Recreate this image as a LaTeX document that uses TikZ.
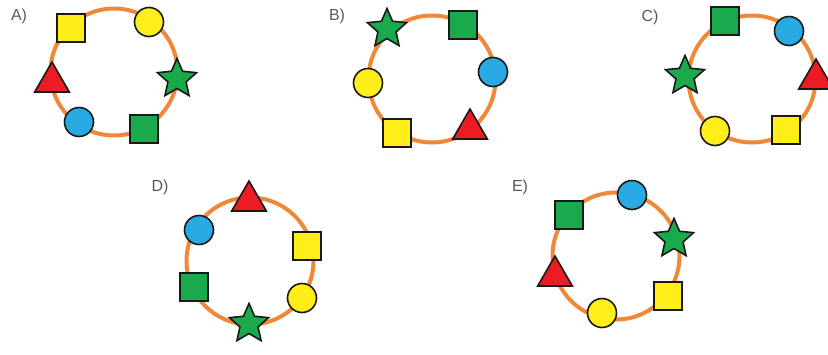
\documentclass[tikz,border=0pt]{standalone}
\usepackage{fontspec}
\setmainfont{Liberation Sans}
\usetikzlibrary{shapes.geometric}
\definecolor{ringorange}{HTML}{F0883A}
\definecolor{shyellow}{HTML}{FFEE1A}
\definecolor{shgreen}{HTML}{1AAA4C}
\definecolor{shblue}{HTML}{2AAAE2}
\definecolor{shred}{HTML}{EC1C24}
\begin{document}
\begin{tikzpicture}[x=1pt,y=-1pt]
\tikzstyle{ring} = [circle, draw=ringorange, line width=4pt, minimum size=127pt, inner sep=0pt]
\tikzstyle{figure} = [draw=black!90, line width=1.6pt, inner sep=0pt]
\tikzstyle{sq} = [figure, rectangle, minimum size=28pt]
\tikzstyle{dot} = [figure, circle, minimum size=29pt]
\tikzstyle{starbox} = [figure, star, star points=5, star point ratio=2.15, minimum size=41pt, fill=shgreen]
\tikzstyle{tri} = [figure, regular polygon, regular polygon sides=3, minimum size=40pt, fill=shred]
\tikzstyle{tag} = [text=black!65, font=\fontsize{16}{18}\selectfont]
\clip (0,0) rectangle (828,354);
%
% A)
\node (tagA) [tag] at (19,16) {A)};
\node (ringA) [ring] at (114,72) {};
\node (A-ysq) [sq, fill=shyellow] at (71,28) {};
\node (A-ydot) [dot, fill=shyellow] at (149,22) {};
\node (A-star) [starbox] at (177,79) {};
\node (A-tri) [tri] at (52,82) {};
\node (A-bdot) [dot, fill=shblue] at (79,122) {};
\node (A-gsq) [sq, fill=shgreen] at (144,129) {};
%
% B)
\node (tagB) [tag] at (337,16) {B)};
\node (ringB) [ring] at (432,79) {};
\node (B-star) [starbox] at (387,29) {};
\node (B-gsq) [sq, fill=shgreen] at (463,25) {};
\node (B-bdot) [dot, fill=shblue] at (493,72) {};
\node (B-ydot) [dot, fill=shyellow] at (368,83) {};
\node (B-ysq) [sq, fill=shyellow] at (397,133) {};
\node (B-tri) [tri] at (470,129) {};
%
% C)
\node (tagC) [tag] at (650,17) {C)};
\node (ringC) [ring] at (752,79) {};
\node (C-gsq) [sq, fill=shgreen] at (725,21) {};
\node (C-bdot) [dot, fill=shblue] at (789,31) {};
\node (C-tri) [tri] at (816,79) {};
\node (C-star) [starbox] at (685,76) {};
\node (C-ydot) [dot, fill=shyellow] at (715,131) {};
\node (C-ysq) [sq, fill=shyellow] at (786,130) {};
%
% D)
\node (tagD) [tag] at (160,187) {D)};
\node (ringD) [ring] at (250,261) {};
\node (D-tri) [tri] at (249,201) {};
\node (D-bdot) [dot, fill=shblue] at (199,230) {};
\node (D-ysq) [sq, fill=shyellow] at (307,246) {};
\node (D-gsq) [sq, fill=shgreen] at (194,287) {};
\node (D-ydot) [dot, fill=shyellow] at (302,298) {};
\node (D-star) [starbox] at (249,324) {};
%
% E)
\node (tagE) [tag] at (520,187) {E)};
\node (ringE) [ring] at (616,256) {};
\node (E-gsq) [sq, fill=shgreen] at (569,215) {};
\node (E-bdot) [dot, fill=shblue] at (632,195) {};
\node (E-star) [starbox] at (674,239) {};
\node (E-tri) [tri] at (555,276) {};
\node (E-ysq) [sq, fill=shyellow] at (668,296) {};
\node (E-ydot) [dot, fill=shyellow] at (602,313) {};
\end{tikzpicture}
\end{document}
